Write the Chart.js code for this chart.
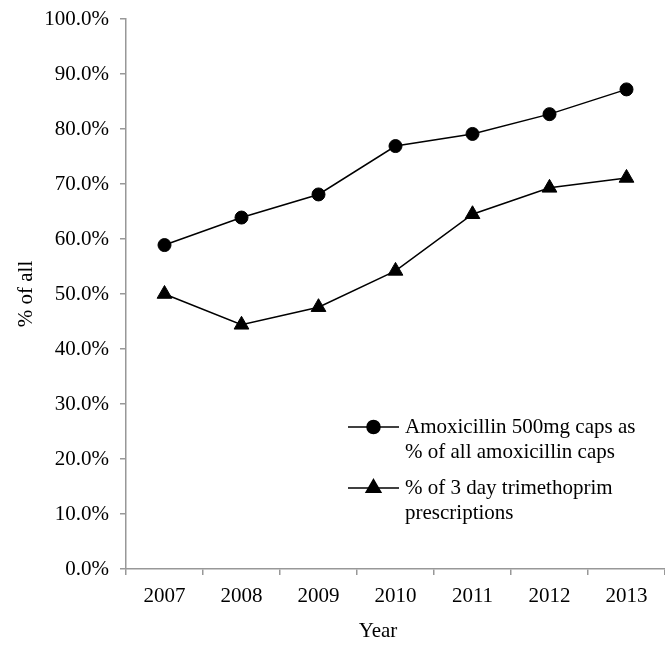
<!DOCTYPE html>
<html>
<head>
<meta charset="utf-8">
<script src="https://cdn.jsdelivr.net/npm/chart.js@4.4.1/dist/chart.umd.min.js"></script>
<style>
  html, body { margin: 0; padding: 0; background: #fff; }
  #wrap { width: 665px; height: 646px; }
</style>
</head>
<body>
<div id="wrap"><canvas id="chart" width="665" height="646"></canvas></div>
<script>
// data
const years = ['2007', '2008', '2009', '2010', '2011', '2012', '2013'];
const amoxValues = [58.9, 63.9, 68.1, 76.9, 79.1, 82.7, 87.2];
const trimValues = [50.0, 44.4, 47.6, 54.2, 64.5, 69.3, 71.1];
const amoxLegend = ['Amoxicillin 500mg caps as', '% of all amoxicillin caps'];
const trimLegend = ['% of 3 day trimethoprim', 'prescriptions'];
const yTitle = '% of all';
const xTitle = 'Year';

const FONT = '"Liberation Serif", "Times New Roman", serif';
const axisGray = '#989898';
const legendLines = [amoxLegend, trimLegend];

// legend sits inside the plot, lower right, with wrapped labels
const boxLegend = {
  id: 'boxLegend',
  afterDraw(chart) {
    const ctx = chart.ctx;
    const area = chart.chartArea;
    const x0 = area.left + 222;
    chart.data.datasets.forEach((ds, i) => {
      const y = area.top + 408 + i * 61;
      ctx.save();
      ctx.strokeStyle = '#000';
      ctx.fillStyle = '#000';
      ctx.lineWidth = ds.borderWidth;
      ctx.beginPath();
      ctx.moveTo(x0, y);
      ctx.lineTo(x0 + 51, y);
      ctx.stroke();
      Chart.helpers.drawPoint(ctx, {
        pointStyle: ds.pointStyle,
        radius: ds.pointRadius,
        borderWidth: 1
      }, x0 + 25.5, y);
      ctx.font = '21px ' + FONT;
      ctx.textBaseline = 'alphabetic';
      ctx.textAlign = 'left';
      legendLines[i].forEach((t, j) => ctx.fillText(t, x0 + 57, y + 6 + j * 24.5));
      ctx.restore();
    });
  }
};

// x title is centred a bit left of the axis middle in the original
const xTitlePlugin = {
  id: 'xTitlePlugin',
  afterDraw(chart) {
    const ctx = chart.ctx;
    ctx.save();
    ctx.fillStyle = '#000';
    ctx.font = '21px ' + FONT;
    ctx.textAlign = 'center';
    ctx.textBaseline = 'middle';
    ctx.fillText(xTitle, chart.chartArea.left + 252, 631);
    ctx.restore();
  }
};

new Chart(document.getElementById('chart'), {
  type: 'line',
  data: {
    labels: years,
    datasets: [
      {
        label: amoxLegend.join(' '),
        data: amoxValues,
        borderColor: '#000',
        backgroundColor: '#000',
        borderWidth: 1.5,
        pointStyle: 'circle',
        pointRadius: 6.5,
        pointBorderWidth: 1,
        pointBackgroundColor: '#000',
        pointBorderColor: '#000',
        tension: 0,
        fill: false
      },
      {
        label: trimLegend.join(' '),
        data: trimValues,
        borderColor: '#000',
        backgroundColor: '#000',
        borderWidth: 1.5,
        pointStyle: 'triangle',
        pointRadius: 8.5,
        pointBorderWidth: 1,
        pointBackgroundColor: '#000',
        pointBorderColor: '#000',
        tension: 0,
        fill: false
      }
    ]
  },
  options: {
    responsive: false,
    animation: false,
    layout: { autoPadding: false, padding: { top: 19, right: -2, left: 0, bottom: 0 } },
    plugins: {
      legend: { display: false },
      tooltip: { enabled: false }
    },
    scales: {
      x: {
        offset: true,
        grid: { offset: true, drawOnChartArea: false, drawTicks: true, tickLength: 6, color: axisGray, lineWidth: 1.5 },
        border: { color: axisGray, width: 1.5 },
        ticks: { color: '#000', font: { family: FONT, size: 21 }, padding: 9, maxRotation: 0, autoSkip: false },
        afterFit(scale) {
          scale.height = 77;
          scale.paddingLeft = 0;
          scale.paddingRight = 0;
        }
      },
      y: {
        min: 0,
        max: 100,
        grid: { drawOnChartArea: false, drawTicks: true, tickLength: 6, color: axisGray, lineWidth: 1.5 },
        border: { color: axisGray, width: 1.5 },
        ticks: {
          stepSize: 10,
          color: '#000',
          font: { family: FONT, size: 21 },
          padding: 11,
          callback: v => v.toFixed(1) + '%'
        },
        title: {
          display: true,
          text: yTitle,
          color: '#000',
          font: { family: FONT, size: 21 },
          padding: { top: 14, bottom: 0 }
        },
        afterFit(scale) {
          scale.width = 126;
          scale.paddingTop = 0;
          scale.paddingBottom = 0;
        }
      }
    }
  },
  plugins: [boxLegend, xTitlePlugin]
});
</script>
</body>
</html>
